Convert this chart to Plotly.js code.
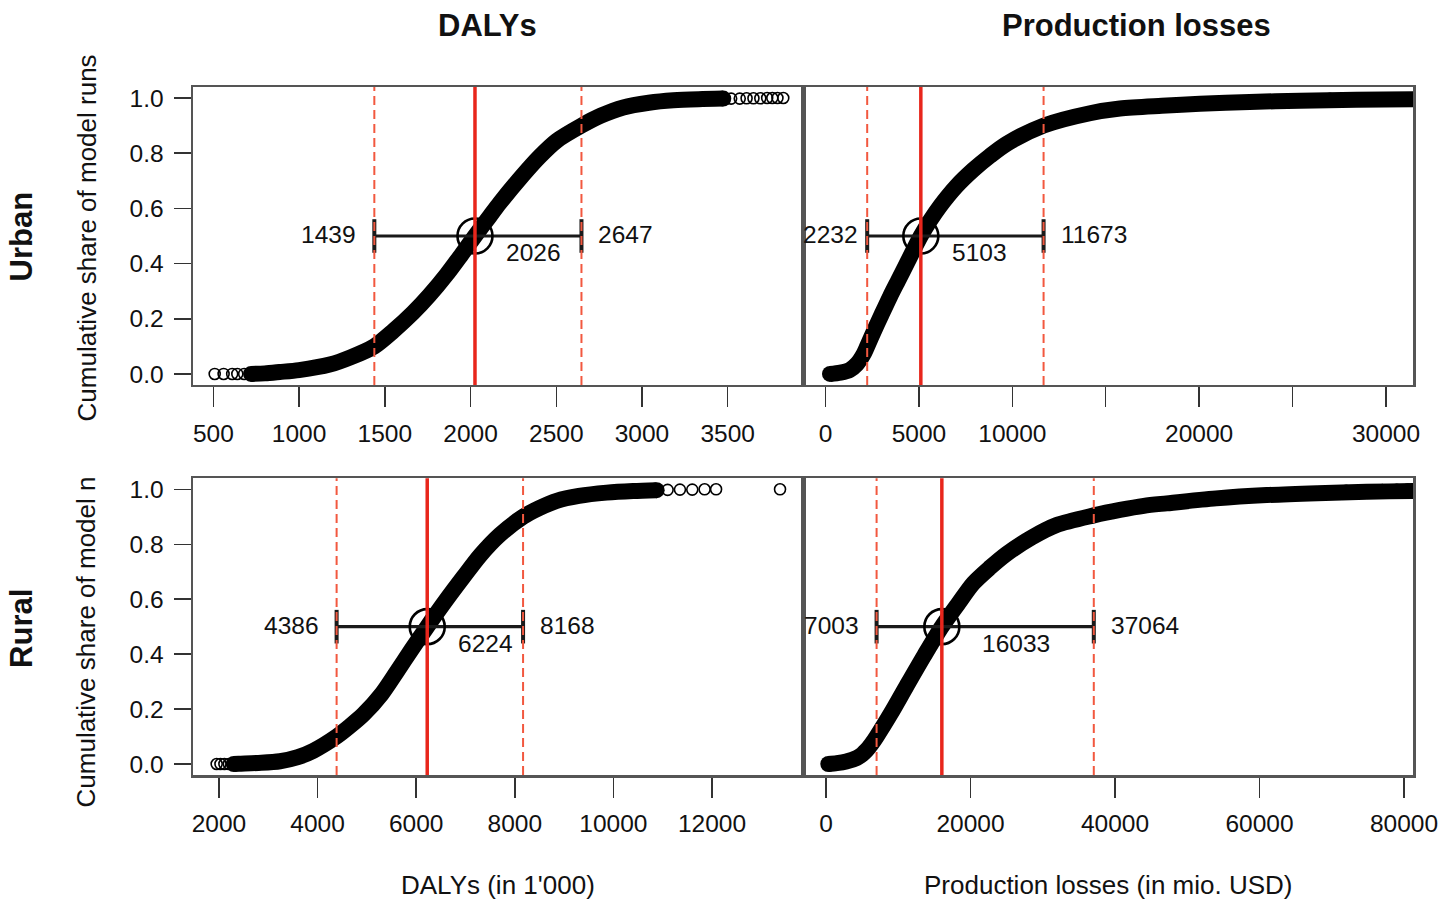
<!DOCTYPE html>
<html>
<head>
<meta charset="utf-8">
<script src="https://cdn.plot.ly/plotly-3.0.1.min.js"></script>
<style>html,body{margin:0;padding:0;background:#fff;}#chart{width:1455px;height:901px;}</style>
</head>
<body>
<div id="chart"></div>
<script>
// ---------- DATA ----------
// Urban, DALYs (in 1'000)
const urbanDalyX = [720, 800, 887, 1000, 1179, 1300, 1439, 1550, 1665, 1760, 1860, 1950, 2026, 2113, 2171, 2307, 2400, 2502, 2647, 2760, 2891, 3040, 3183, 3330, 3474];
const urbanDalyY = [0.0, 0.002, 0.007, 0.014, 0.034, 0.06, 0.1, 0.156, 0.222, 0.285, 0.36, 0.435, 0.5, 0.572, 0.62, 0.722, 0.786, 0.845, 0.9, 0.936, 0.966, 0.983, 0.992, 0.996, 0.998];
const urbanDalyTailX = [508, 560, 610, 640, 680, 720, 760, 3520, 3570, 3610, 3650, 3690, 3730, 3760, 3790, 3824];
const urbanDalyTailY = [0, 0, 0, 0, 0, 0, 0, 0.998, 0.998, 0.999, 0.999, 0.999, 1, 1, 1, 1];

// Urban, Production losses (in mio. USD)
const urbanProdX = [241, 800, 1306, 1670, 2023, 2232, 2559, 3000, 3452, 3900, 4346, 5103, 5600, 6129, 7000, 7911, 8800, 9695, 11673, 14157, 15763, 18000, 20045, 22700, 25397, 28400, 31446, 33500];
const urbanProdY = [0.0, 0.005, 0.015, 0.035, 0.07, 0.1, 0.15, 0.215, 0.28, 0.34, 0.4, 0.5, 0.556, 0.608, 0.68, 0.74, 0.79, 0.834, 0.9, 0.945, 0.962, 0.972, 0.979, 0.986, 0.99, 0.994, 0.996, 0.997];
const urbanProdTailX = [27000, 28400, 29200, 30500, 31000];
const urbanProdTailY = [0.997, 0.998, 0.998, 0.999, 0.999];

// Rural, DALYs (in 1'000)
const ruralDalyX = [2300, 2400, 2800, 3237, 3600, 3913, 4386, 4650, 4927, 5300, 5604, 5900, 6224, 6600, 6955, 7300, 7700, 8168, 8500, 8850, 9300, 9864, 10400, 10878];
const ruralDalyY = [0.0, 0.001, 0.004, 0.01, 0.025, 0.048, 0.1, 0.137, 0.18, 0.255, 0.335, 0.415, 0.5, 0.595, 0.68, 0.76, 0.835, 0.9, 0.932, 0.958, 0.976, 0.988, 0.994, 0.997];
const ruralDalyTailX = [1953, 2030, 2110, 2200, 2300, 11100, 11350, 11600, 11850, 12083, 13380];
const ruralDalyTailY = [0, 0, 0, 0, 0, 0.998, 0.999, 0.999, 1, 1, 1];

// Rural, Production losses (in mio. USD)
const ruralProdX = [318, 1500, 2800, 4249, 5000, 5600, 6300, 7003, 9000, 11170, 13600, 16033, 18200, 20387, 22700, 25001, 28500, 31921, 37064, 40692, 44000, 47156, 54000, 61000, 68000, 74840, 81245, 86000];
const ruralProdY = [0.0, 0.003, 0.009, 0.022, 0.035, 0.05, 0.073, 0.1, 0.185, 0.285, 0.395, 0.5, 0.58, 0.658, 0.715, 0.765, 0.825, 0.87, 0.905, 0.925, 0.94, 0.949, 0.967, 0.979, 0.986, 0.991, 0.994, 0.996];
const ruralProdTailX = [72000, 75500, 77000, 79000, 80500];
const ruralProdTailY = [0.995, 0.996, 0.997, 0.998, 0.999];

// Summary values: lower bound, median, upper bound (panel order TL, TR, BL, BR)
const lowerVals  = [1439, 2232, 4386, 7003];
const medianVals = [2026, 5103, 6224, 16033];
const upperVals  = [2647, 11673, 8168, 37064];
const midShare = 0.5;

// Tick values / labels
const ticksUrbanDaly = [500, 1000, 1500, 2000, 2500, 3000, 3500];
const ticksUrbanProd = [0, 5000, 10000, 15000, 20000, 25000, 30000];
const labelsUrbanProd = ['0', '5000', '10000', '', '20000', '', '30000'];
const ticksRuralDaly = [2000, 4000, 6000, 8000, 10000, 12000];
const ticksRuralProd = [0, 20000, 40000, 60000, 80000];
const yTicks = [0, 0.2, 0.4, 0.6, 0.8, 1.0];

const colTitles = ['DALYs', 'Production losses'];
const rowTitles = ['Urban', 'Rural'];
const yTitles = ['Cumulative share of model runs', 'Cumulative share of model n'];
const xTitles = ["DALYs (in 1'000)", 'Production losses (in mio. USD)'];

// ---------- STYLE ----------
const FONT = '"Liberation Sans", Arial, Helvetica, sans-serif';
const panels = [
  {cx: urbanDalyX, cy: urbanDalyY, tx: urbanDalyTailX, ty: urbanDalyTailY, xa: 'x',  ya: 'y',  lowShift: -16, medShift: 29},
  {cx: urbanProdX, cy: urbanProdY, tx: urbanProdTailX, ty: urbanProdTailY, xa: 'x2', ya: 'y2', lowShift: -7,  medShift: 29},
  {cx: ruralDalyX, cy: ruralDalyY, tx: ruralDalyTailX, ty: ruralDalyTailY, xa: 'x3', ya: 'y3', lowShift: -16, medShift: 29},
  {cx: ruralProdX, cy: ruralProdY, tx: ruralProdTailX, ty: ruralProdTailY, xa: 'x4', ya: 'y4', lowShift: -16, medShift: 38}
];

const traces = [];
const shapes = [];
const annotations = [];
const lblFont = {family: FONT, size: 24.5, color: '#111'};

panels.forEach((p, i) => {
  traces.push({x: p.cx, y: p.cy, xaxis: p.xa, yaxis: p.ya, type: 'scatter', mode: 'lines',
    line: {color: '#000', width: 16, shape: 'spline', smoothing: 0.8}, hoverinfo: 'skip'});
  traces.push({x: [p.cx[0], p.cx[p.cx.length - 1]], y: [p.cy[0], p.cy[p.cy.length - 1]], xaxis: p.xa, yaxis: p.ya,
    type: 'scatter', mode: 'markers', marker: {color: '#000', size: 16}, hoverinfo: 'skip'});
  traces.push({x: p.tx, y: p.ty, xaxis: p.xa, yaxis: p.ya, type: 'scatter', mode: 'markers',
    marker: {symbol: 'circle-open', size: 11, color: '#000', line: {width: 1.6, color: '#000'}}, hoverinfo: 'skip'});
  traces.push({x: [lowerVals[i], upperVals[i]], y: [midShare, midShare], xaxis: p.xa, yaxis: p.ya, type: 'scatter',
    mode: 'lines+markers', line: {color: '#1a1a1a', width: 3.2},
    marker: {symbol: 'line-ns', size: 24, color: '#1a1a1a', line: {width: 4, color: '#1a1a1a'}}, hoverinfo: 'skip'});
  traces.push({x: [medianVals[i]], y: [midShare], xaxis: p.xa, yaxis: p.ya, type: 'scatter', mode: 'markers',
    marker: {symbol: 'circle-open', size: 35, color: '#000', line: {width: 2.6, color: '#000'}}, hoverinfo: 'skip'});

  const yd = p.ya + ' domain';
  [lowerVals[i], upperVals[i]].forEach(v => {
    shapes.push({type: 'line', layer: 'above', xref: p.xa, yref: yd, x0: v, x1: v, y0: 0, y1: 1,
      line: {color: '#f2583f', width: 2, dash: '9px,5px'}});
  });
  shapes.push({type: 'line', layer: 'above', xref: p.xa, yref: yd, x0: medianVals[i], x1: medianVals[i], y0: 0, y1: 1,
    line: {color: '#e8261c', width: 3.5}});

  annotations.push({xref: p.xa, yref: p.ya, x: lowerVals[i], y: midShare, text: String(lowerVals[i]), showarrow: false,
    xanchor: 'right', yanchor: 'middle', xshift: p.lowShift, yshift: 1, font: lblFont});
  annotations.push({xref: p.xa, yref: p.ya, x: upperVals[i], y: midShare, text: String(upperVals[i]), showarrow: false,
    xanchor: 'left', yanchor: 'middle', xshift: 15, yshift: 1, font: lblFont});
  annotations.push({xref: p.xa, yref: p.ya, x: medianVals[i], y: midShare, text: String(medianVals[i]), showarrow: false,
    xanchor: 'left', yanchor: 'middle', xshift: p.medShift, yshift: -17, font: lblFont});
});

// outer texts
const boldFont = {family: FONT, size: 31, color: '#111'};
annotations.push({xref: 'paper', yref: 'paper', x: 0.2414, y: 1.0901, text: '<b>' + colTitles[0] + '</b>', showarrow: false, xanchor: 'center', yanchor: 'middle', font: boldFont});
annotations.push({xref: 'paper', yref: 'paper', x: 0.773, y: 1.0901, text: '<b>' + colTitles[1] + '</b>', showarrow: false, xanchor: 'center', yanchor: 'middle', font: boldFont});
annotations.push({xref: 'paper', yref: 'paper', x: -0.1402, y: 0.7827, text: '<b>' + rowTitles[0] + '</b>', textangle: -90, showarrow: false, xanchor: 'center', yanchor: 'middle', font: boldFont});
annotations.push({xref: 'paper', yref: 'paper', x: -0.1402, y: 0.2137, text: '<b>' + rowTitles[1] + '</b>', textangle: -90, showarrow: false, xanchor: 'center', yanchor: 'middle', font: boldFont});
const titleFont = {family: FONT, size: 26, color: '#111'};
annotations.push({xref: 'paper', yref: 'paper', x: -0.0869, y: 0.7813, text: yTitles[0], textangle: -90, showarrow: false, xanchor: 'center', yanchor: 'middle', font: titleFont});
annotations.push({xref: 'paper', yref: 'paper', x: -0.0869, y: -0.0494, text: yTitles[1], textangle: -90, showarrow: false, xanchor: 'center', yanchor: 'bottom', font: titleFont});
annotations.push({xref: 'paper', yref: 'paper', x: 0.25, y: -0.1599, text: xTitles[0], showarrow: false, xanchor: 'center', yanchor: 'middle', font: titleFont});
annotations.push({xref: 'paper', yref: 'paper', x: 0.75, y: -0.1599, text: xTitles[1], showarrow: false, xanchor: 'center', yanchor: 'middle', font: titleFont});

const tickFont = {family: FONT, size: 24.5, color: '#111'};
function xAx(domain, anchor, range, vals, text) {
  return {domain: domain, anchor: anchor, range: range, tickmode: 'array', tickvals: vals, ticktext: text || vals.map(String),
    ticks: 'outside', ticklen: 20, tickwidth: 1.5, tickcolor: '#333', tickfont: tickFont, ticklabelstandoff: 5,
    showline: true, mirror: true, linecolor: '#555', linewidth: 2.5, showgrid: false, zeroline: false, fixedrange: true};
}
function yAx(domain, anchor, labels) {
  return {domain: domain, anchor: anchor, range: [-0.04, 1.04], tickmode: 'array', tickvals: yTicks,
    ticktext: yTicks.map(v => v.toFixed(1)), showticklabels: labels, ticks: labels ? 'outside' : '', ticklen: 17, tickwidth: 1.5,
    tickcolor: '#333', tickfont: tickFont, ticklabelstandoff: 5,
    showline: true, mirror: true, linecolor: '#555', linewidth: 2.5, showgrid: false, zeroline: false, fixedrange: true};
}

const topDom = [0.5669, 1];
const botDom = [0, 0.4312];
const layout = {
  width: 1455, height: 901,
  margin: {l: 193, r: 42, t: 87, b: 126},
  paper_bgcolor: '#fff', plot_bgcolor: '#fff',
  showlegend: false,
  font: {family: FONT, color: '#111'},
  xaxis:  xAx([0, 0.5], 'y',  [381.5, 3939], ticksUrbanDaly),
  yaxis:  yAx(topDom, 'x', true),
  xaxis2: xAx([0.5, 1], 'y2', [-1204, 31446], ticksUrbanProd, labelsUrbanProd),
  yaxis2: yAx(topDom, 'x2', false),
  xaxis3: xAx([0, 0.5], 'y3', [1473, 13846], ticksRuralDaly),
  yaxis3: yAx(botDom, 'x3', true),
  xaxis4: xAx([0.5, 1], 'y4', [-3183, 81245], ticksRuralProd),
  yaxis4: yAx(botDom, 'x4', false),
  shapes: shapes,
  annotations: annotations
};

Plotly.newPlot('chart', traces, layout, {displayModeBar: false, staticPlot: true});
</script>
</body>
</html>
